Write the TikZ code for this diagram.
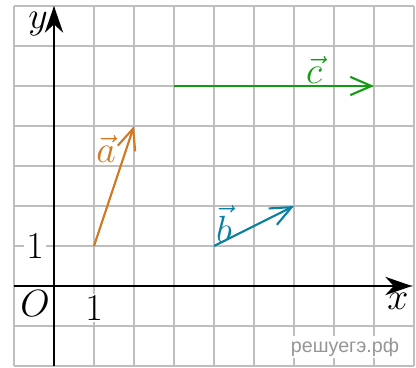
\documentclass[tikz,border=0pt]{standalone}
\usepackage{fontspec}
\newfontfamily\wmfont{Liberation Sans}
\usetikzlibrary{arrows.meta}
\definecolor{gridc}{RGB}{190,190,190}
\definecolor{veca}{RGB}{209,120,34}
\definecolor{vecb}{RGB}{10,128,163}
\definecolor{vecc}{RGB}{20,155,20}
\definecolor{wmc}{RGB}{150,150,150}
\tikzset{
  gridline/.style={draw=gridc, line width=1pt},
  axis/.style={line width=1.5pt, -{Stealth[length=19pt,width=13pt,inset=6pt]}},
  vecline/.style={line width=1.5pt, -{Straight Barb[length=15pt,width=13pt,line width=1.5pt]}},
  lab/.style={font=\fontsize{20}{24}\selectfont, inner sep=1pt, scale=1.3},
  wlab/.style={lab, fill=white},
}
\begin{document}
\begin{tikzpicture}
\useasboundingbox (-1.35,-2.025) rectangle (9.05,7.15);
\draw[gridline] (-1,-2) grid (9,7);
% axes
\coordinate (xs) at (-1,0);
\coordinate (xe) at (8.95,0);
\coordinate (ys) at (0,-2);
\coordinate (ye) at (0,7);
\draw[axis] (xs) -- (xe);
\draw[axis] (ys) -- (ye);
% labels
\node[lab] (ly) at (-0.4,6.55) {$y$};
\node[lab] (lx) at (8.6,-0.38) {$x$};
\node[wlab] (lo) at (-0.475,-0.45) {$O$};
\node[wlab] (l1x) at (1,-0.55) {$1$};
\node[wlab] (l1y) at (-0.475,1) {$1$};
% vectors
\coordinate (a0) at (1,1);
\coordinate (a1) at (2,4);
\coordinate (b0) at (4,1);
\coordinate (b1) at (6,2);
\coordinate (c0) at (3,5);
\coordinate (c1) at (8,5);
\draw[vecline, veca] (a0) -- (a1);
\draw[vecline, vecb] (b0) -- (b1);
\draw[vecline, vecc] (c0) -- (c1);
\node[lab, text=veca] (la) at (1.3,3.42) {$\vec{a}$};
\node[lab, text=vecb] (lb) at (4.25,1.55) {$\vec{b}$};
\node[lab, text=vecc] (lc) at (6.5,5.4) {$\vec{c}$};
% watermark
\node[fill=white, text=wmc, inner sep=1pt, font=\wmfont\fontsize{14}{16}\selectfont] (wm) at (7.275,-1.525) {решуегэ.рф};
\end{tikzpicture}
\end{document}
